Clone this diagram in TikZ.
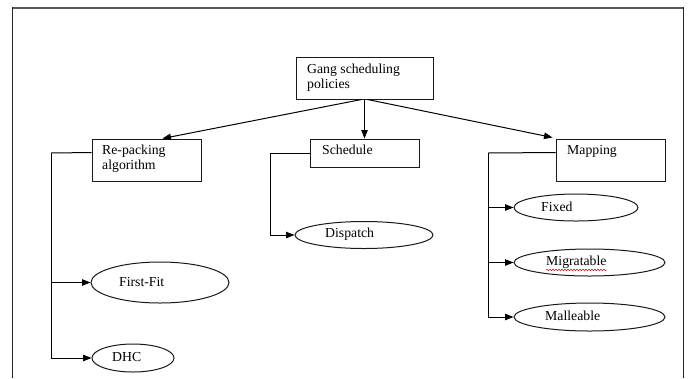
\documentclass[tikz,border=0pt]{standalone}
\usepackage{fontspec}
\setmainfont{Liberation Serif}
\usetikzlibrary{arrows.meta,calc,shapes.geometric,decorations.pathmorphing}

\begin{document}
\begin{tikzpicture}[x=1bp,y=-1bp,
  every node/.style={font=\fontsize{13.8}{14.8}\selectfont, text=black},
  boxnode/.style={draw=black!90, line width=1bp, rectangle, inner sep=0pt},
  ovalnode/.style={draw=black!90, line width=1bp, ellipse, inner sep=0pt},
  labelnode/.style={anchor=west, inner sep=0pt, align=left},
  conn/.style={draw=black, line width=1bp},
  arr/.style={conn, -{Triangle[length=8.5bp,width=6.5bp]}}]
  \useasboundingbox (0,0) rectangle (688,378);
  \fill[white] (0,0) rectangle (688,378);

  % outer frame (open at the bottom)
  \draw[black!65, line width=2.4bp] (12,8) -- (684,8);
  \draw[black!85, line width=1.4bp] (12.7,7) -- (12.7,378);
  \draw[black!85, line width=1.4bp] (683.5,7) -- (683.5,378);

  % boxes
  \node[boxnode, minimum width=137bp, minimum height=42bp] (gang) at (364.5,78) {};
  \node[boxnode, minimum width=109bp, minimum height=42bp] (rp)   at (146.5,160) {};
  \node[boxnode, minimum width=109bp, minimum height=28bp] (sch)  at (364.5,153) {};
  \node[boxnode, minimum width=109bp, minimum height=42bp] (map)  at (610.5,160) {};

  \node[labelnode, anchor=north west] (gangT) at (307,64) {Gang scheduling\\policies};
  \node[labelnode, anchor=north west] (rpT)   at (102,145) {Re-packing\\algorithm};
  \node[labelnode, anchor=north west] (schT)  at (322,145) {Schedule};
  \node[labelnode, anchor=north west] (mapT)  at (567,145) {Mapping};

  % ellipses
  \node[ovalnode, minimum width=138bp, minimum height=41bp] (ff)  at (160,282.5) {};
  \node[ovalnode, minimum width=82bp,  minimum height=28bp] (dhc) at (133,358) {};
  \node[ovalnode, minimum width=138bp, minimum height=27bp] (dis) at (364,235) {};
  \node[ovalnode, minimum width=124bp, minimum height=27bp] (fix) at (576,207.5) {};
  \node[ovalnode, minimum width=151bp, minimum height=27bp] (mig) at (589.5,262.5) {};
  \node[ovalnode, minimum width=151bp, minimum height=28bp] (mal) at (589.5,317) {};

  \node[labelnode] (ffT)  at (119,282) {First-Fit};
  \node[labelnode] (dhcT) at (112,357) {DHC};
  \node[labelnode] (disT) at (325,234) {Dispatch};
  \node[labelnode] (fixT) at (541,207) {Fixed};
  \node[labelnode] (migT) at (546,262) {Migratable};
  \node[labelnode] (malT) at (545,316) {Malleable};

  % spelling squiggle under the word
  \draw[red!75!black, line width=0.5bp, decorate,
        decoration={snake, amplitude=0.7bp, segment length=3bp}]
        ($(migT.south west)+(0,1.5)$) -- ($(migT.south east)+(0,1.5)$);

  % top-level arrows
  \draw[arr] ($(gang.south)+(-3,0)$) -- ($(rp.north west)+(71,0)$);
  \draw[arr] (gang.south) -- (sch.north);
  \draw[arr] ($(gang.south)+(3,0)$) -- ($(map.north west)+(-3,-1)$);

  % re-packing branch
  \coordinate (rpb) at (51,153);
  \draw[conn] ($(rp.north west)+(0,14)$) -- (rpb);
  \draw[arr] (rpb) |- (dhc.west);
  \draw[arr] (rpb |- ff.west) -- (ff.west);

  % schedule branch
  \coordinate (schb) at (270,153);
  \draw[arr] (sch.west) -- (schb) |- (dis.west);

  % mapping branch
  \coordinate (mapb) at (488,153);
  \draw[conn] ($(map.north west)+(0,14)$) -- (mapb);
  \draw[arr] (mapb) |- (mal.west);
  \draw[arr] (mapb |- fix.west) -- (fix.west);
  \draw[arr] (mapb |- mig.west) -- (mig.west);
\end{tikzpicture}
\end{document}
